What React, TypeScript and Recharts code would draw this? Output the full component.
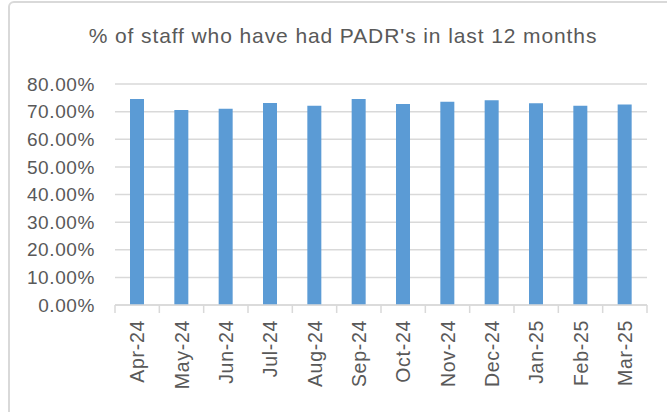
import React from "react";
import { BarChart, Bar, XAxis, YAxis, CartesianGrid } from "recharts";

const months = ["Apr-24", "May-24", "Jun-24", "Jul-24", "Aug-24", "Sep-24", "Oct-24", "Nov-24", "Dec-24", "Jan-25", "Feb-25", "Mar-25"];
const padrPct = [74.6, 70.6, 71.0, 73.1, 72.1, 74.6, 72.8, 73.6, 74.1, 73.0, 72.1, 72.6];
const yTicks = [0, 10, 20, 30, 40, 50, 60, 70, 80];
const title = "% of staff who have had PADR's in last 12 months";

const data = months.map((m, i) => ({ month: m, value: padrPct[i] }));

const W = 667;
const H = 412;
const MARGIN = { top: 84, right: 20, left: 0, bottom: 0 };
const Y_WIDTH = 115;
const X_HEIGHT = 107;
const FONT = "'Liberation Sans', Arial, sans-serif";
const TEXT = "#595959";
const GRID = "#d9d9d9";

const XTick = (props: any) => {
  const { x, y, payload, index } = props;
  const band = (W - MARGIN.left - MARGIN.right - Y_WIDTH) / months.length;
  return (
    <g>
      <line x1={x - band / 2} y1={y} x2={x - band / 2} y2={y + 8} stroke={GRID} strokeWidth={1.5} />
      {index === months.length - 1 && (
        <line x1={x + band / 2} y1={y} x2={x + band / 2} y2={y + 8} stroke={GRID} strokeWidth={1.5} />
      )}
      <text
        x={x}
        y={y + 15}
        transform={`rotate(-90 ${x} ${y + 15})`}
        textAnchor="end"
        dy="0.36em"
        fill={TEXT}
        fontSize={19.5}
        letterSpacing={0.7}
        fontFamily={FONT}
      >
        {payload.value}
      </text>
    </g>
  );
};

export default function App() {
  return (
    <div style={{ position: "absolute", left: 0, top: 0, width: W, height: H, overflow: "hidden", background: "#fff" }}>
      <div
        style={{
          position: "absolute",
          left: 8,
          top: 1,
          width: 720,
          height: 460,
          border: `2px solid ${GRID}`,
          borderRadius: 6,
          boxSizing: "border-box",
        }}
      />
      <div
        style={{
          position: "absolute",
          left: 20,
          width: 646,
          top: 24,
          textAlign: "center",
          fontFamily: FONT,
          fontSize: 21,
          letterSpacing: 0.9,
          color: TEXT,
          whiteSpace: "nowrap",
        }}
      >
        {title}
      </div>
      <div style={{ position: "absolute", left: 0, top: 0 }}>
        <BarChart width={W} height={H} data={data} margin={MARGIN}>
          <CartesianGrid vertical={false} stroke={GRID} strokeWidth={1.5} />
          <XAxis
            dataKey="month"
            height={X_HEIGHT}
            axisLine={{ stroke: GRID, strokeWidth: 1.5 }}
            tickLine={false}
            tickSize={0}
            tickMargin={0}
            interval={0}
            tick={<XTick />}
          />
          <YAxis
            width={Y_WIDTH}
            domain={[0, 80]}
            ticks={yTicks}
            axisLine={false}
            tickLine={false}
            tickSize={0}
            tickMargin={20}
            interval={0}
            tickFormatter={(v: number) => v.toFixed(2) + "%"}
            tick={{ fill: TEXT, fontSize: 19, fontFamily: FONT, letterSpacing: 0.6 }}
          />
          <Bar dataKey="value" fill="#5b9bd5" barSize={14} isAnimationActive={false} />
        </BarChart>
      </div>
    </div>
  );
}
